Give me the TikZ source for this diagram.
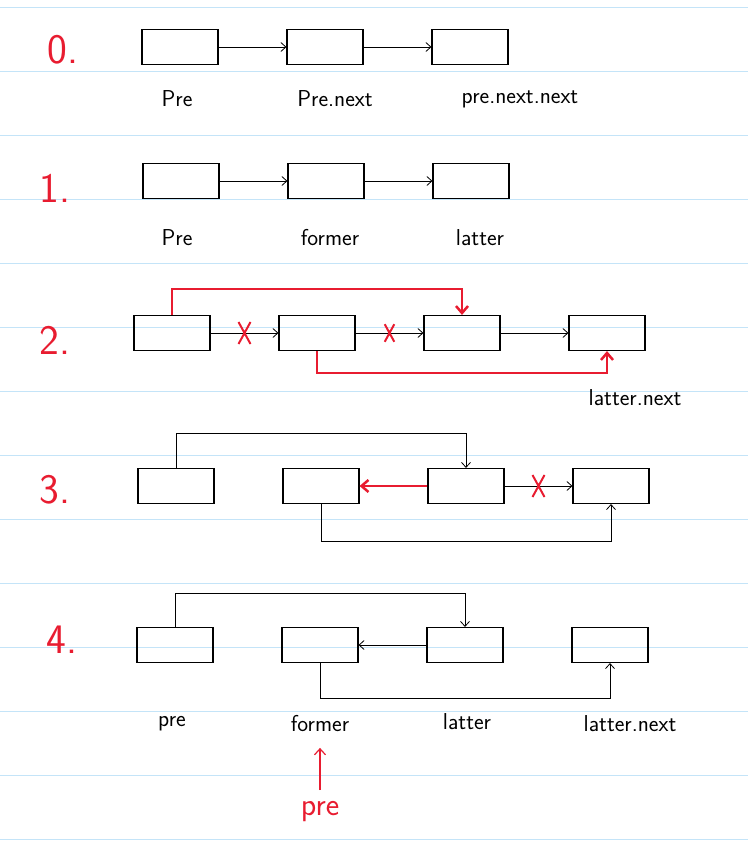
\documentclass[tikz,border=0pt]{standalone}
\usetikzlibrary{arrows.meta,positioning,shapes.misc}
\definecolor{inkred}{RGB}{232,28,48}
\definecolor{ruleblue}{RGB}{196,228,248}

\begin{document}
\begin{tikzpicture}
	[x=1pt,y=-1pt,->,>={Straight Barb[length=5pt,width=9pt]},node distance=145pt,
		thick,
		box/.style={draw,line width=1.1pt,rectangle,minimum width=76pt,minimum height=35pt,inner sep=0pt},
		row num/.style={text=inkred,font=\sffamily\fontsize{42}{46}\selectfont},
		name text/.style={font=\sffamily\fontsize{23}{27}\selectfont},
		red link/.style={draw=inkred,line width=2.5pt,>={Straight Barb[length=7pt,width=12pt]}},
		red pointer/.style={draw=inkred,line width=1.2pt,>={Straight Barb[length=6pt,width=11pt]}},
		cut mark/.style={cross out,draw=inkred,line width=2pt,minimum width=10pt,minimum height=20pt,inner sep=0pt,-}]

    % ruled paper
    \useasboundingbox (0,0) rectangle (748,842);
    \foreach \ly in {7,71,...,839}
        \draw[-,ruleblue,line width=0.9pt] (0,\ly) -- (748,\ly);

    % step 0
    \node[row num] (n0) at (63,50) {0.};
    \node[box] (p0) at (180,47) {};
    \node[box] (q0)[right of = p0] {};
    \node[box] (r0)[right of = q0] {};
    \node[name text] (lp0) at (177,99) {Pre};
    \node[name text] (lq0) at (335,99) {Pre.next};
    \node[name text] (lr0) at (520,99) {pre.next.next};
    \path (p0) edge (q0)
          (q0) edge (r0);

    % step 1
    \node[row num] (n1) at (55,188) {1.};
    \node[box] (p1) at (181,181) {};
    \node[box] (f1)[right of = p1] {};
    \node[box] (l1)[right of = f1] {};
    \node[name text] (lp1) at (177,238) {Pre};
    \node[name text] (lf1) at (330,238) {former};
    \node[name text] (ll1) at (480,238) {latter};
    \path (p1) edge (f1)
          (f1) edge (l1);

    % step 2
    \node[row num] (n2) at (55,340) {2.};
    \node[box] (p2) at (172,333) {};
    \node[box] (f2)[right of = p2] {};
    \node[box] (l2)[right of = f2] {};
    \node[box] (x2)[right of = l2] {};
    \node[name text] (lx2) at (635,398) {latter.next};
    \path (p2) edge node[cut mark] {} (f2)
          (f2) edge node[cut mark,scale=0.8] {} (l2)
          (l2) edge (x2);
    \draw[red link] (p2.north) -- ++(0,-26) -| (l2.north);
    \draw[red link] (f2.south) -- ++(0,22) -| (x2.south);

    % step 3
    \node[row num] (n3) at (55,490) {3.};
    \node[box] (p3) at (176,486) {};
    \node[box] (f3)[right of = p3] {};
    \node[box] (l3)[right of = f3] {};
    \node[box] (x3)[right of = l3] {};
    \draw (p3.north) -- ++(0,-35) -| (l3.north);
    \path (l3) edge[red link] (f3)
          (l3) edge node[cut mark] {} (x3);
    \draw (f3.south) -- ++(0,37) -| (x3.south);

    % step 4
    \node[row num] (n4) at (62,640) {4.};
    \node[box] (p4) at (175,645) {};
    \node[box] (f4)[right of = p4] {};
    \node[box] (l4)[right of = f4] {};
    \node[box] (x4)[right of = l4] {};
    \node[name text] (lp4) at (172,724) {pre};
    \node[name text] (lf4) at (320,724) {former};
    \node[name text] (ll4) at (467,722) {latter};
    \node[name text] (lx4) at (630,724) {latter.next};
    \draw (p4.north) -- ++(0,-34) -| (l4.north);
    \path (l4) edge (f4);
    \draw (f4.south) -- ++(0,35) -| (x4.south);

    % pre moves to former
    \node[name text,text=inkred,font=\sffamily\fontsize{32}{36}\selectfont] (np) at (320,812) {pre};
    \draw[red pointer,shorten <=8pt,shorten >=12pt] (np) -- (lf4);

\end{tikzpicture}
\end{document}
